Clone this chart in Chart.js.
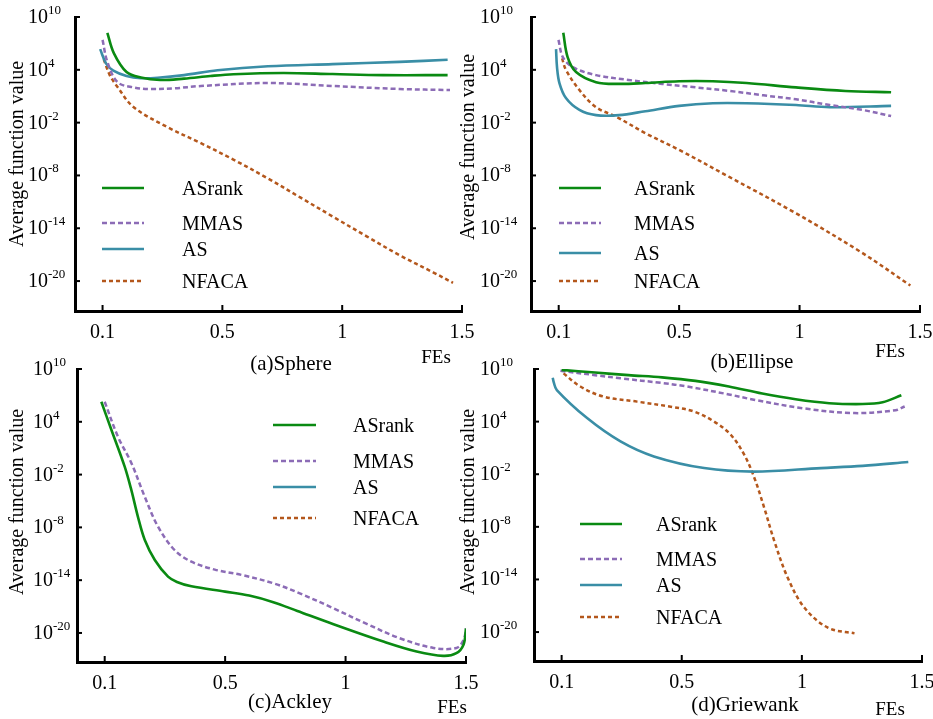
<!DOCTYPE html>
<html>
<head>
<meta charset="utf-8">
<script src="https://cdn.jsdelivr.net/npm/chart.js@4.4.1/dist/chart.umd.min.js"></script>
<style>
  html, body { margin: 0; padding: 0; background: #fff; }
  #fig { position: relative; width: 933px; height: 719px; }
  #fig canvas { position: absolute; left: 0; top: 0; }
</style>
</head>
<body>
<div id="fig">
  <canvas id="c-sphere" width="933" height="719"></canvas>
  <canvas id="c-ellipse" width="933" height="719"></canvas>
  <canvas id="c-ackley" width="933" height="719"></canvas>
  <canvas id="c-griewank" width="933" height="719"></canvas>
</div>
<script>
// x ticks sit evenly spaced, the first one is labelled 0.1
const xTickValues = [0, 0.5, 1, 1.5];
const xTickLabels = ['0.1', '0.5', '1', '1.5'];
// y values are log10 of the average function value
const yTickExps = [10, 4, -2, -8, -14, -20];
const seriesNames = ['ASrank', 'MMAS', 'AS', 'NFACA'];

// (a) Sphere
const sphereASrankX = [0.02, 0.047, 0.1, 0.16, 0.24, 0.34, 0.45, 0.546, 0.754, 0.96, 1.17, 1.44];
const sphereASrank = [8.2, 5.9, 3.75, 3.12, 2.84, 3.0, 3.3, 3.5, 3.64, 3.52, 3.4, 3.4];
const sphereMMASX = [0, 0.02, 0.0625, 0.13, 0.2, 0.3, 0.41, 0.69, 0.96, 1.24, 1.45];
const sphereMMAS = [7.4, 4.9, 2.6, 2.0, 1.82, 1.9, 2.16, 2.5, 2.16, 1.82, 1.7];
const sphereASX = [-0.01, 0.015, 0.045, 0.1, 0.16, 0.23, 0.34, 0.48, 0.69, 0.96, 1.24, 1.44];
const sphereAS = [6.35, 4.7, 3.9, 3.3, 3.05, 3.1, 3.4, 3.95, 4.4, 4.65, 4.9, 5.15];
const sphereNFACAX = [0.005, 0.03, 0.0625, 0.129, 0.27, 0.408, 0.546, 0.6875, 0.825, 0.9625, 1.104, 1.242, 1.379, 1.4625];
const sphereNFACA = [5.2, 3.4, 2.05, -0.23, -2.5, -4.3, -6.2, -8.3, -10.5, -12.7, -14.95, -17.1, -19.0, -20.2];

// (b) Ellipse
const ellipseASrankX = [0.019, 0.037, 0.072, 0.155, 0.25, 0.36, 0.5, 0.64, 0.78, 0.985, 1.19, 1.38];
const ellipseASrank = [8.2, 5.45, 3.75, 2.6, 2.4, 2.5, 2.7, 2.7, 2.5, 2.0, 1.6, 1.45];
const ellipseMMASX = [-0.001, 0.017, 0.058, 0.155, 0.29, 0.43, 0.57, 0.71, 0.85, 0.985, 1.125, 1.26, 1.38];
const ellipseMMAS = [7.4, 5.45, 4.3, 3.4, 2.85, 2.4, 2.0, 1.6, 1.1, 0.65, 0, -0.55, -1.25];
const ellipseASX = [-0.011, -0.007, 0.003, 0.03, 0.086, 0.155, 0.25, 0.36, 0.5, 0.64, 0.78, 0.985, 1.125, 1.38];
const ellipseAS = [6.35, 4.3, 2.5, 0.8, -0.55, -1.15, -1.15, -0.7, -0.1, 0.2, 0.2, 0, -0.25, -0.1];
const ellipseNFACAX = [0.014, 0.03, 0.086, 0.155, 0.24, 0.36, 0.5, 0.71, 0.985, 1.26, 1.46];
const ellipseNFACA = [5.3, 4.0, 1.7, -0.25, -1.35, -3.2, -5.1, -8.2, -12.3, -16.8, -20.5];

// (c) Ackley, AS and NFACA only appear in the legend
const ackleyASrankX = [-0.014, 0.028, 0.083, 0.111, 0.138, 0.166, 0.208, 0.263, 0.3, 0.36, 0.5, 0.6, 0.7, 0.8, 0.95, 1.16, 1.295, 1.405, 1.46, 1.49, 1.5];
const ackleyASrank = [6.28, 3.07, -1.1, -3.8, -6.8, -9.4, -11.7, -13.6, -14.2, -14.7, -15.3, -15.75, -16.5, -17.5, -19.0, -21.0, -22.1, -22.6, -22.3, -21.3, -19.5];
const ackleyMMASX = [0, 0.055, 0.111, 0.166, 0.221, 0.291, 0.36, 0.457, 0.568, 0.706, 0.81, 0.95, 1.09, 1.225, 1.365, 1.46, 1.49, 1.5];
const ackleyMMAS = [6.28, 2.3, -0.7, -4.5, -7.9, -10.6, -11.9, -12.8, -13.4, -14.4, -15.5, -17.2, -19.0, -20.6, -21.7, -21.7, -20.8, -19.5];
const ackleyASX = [];
const ackleyAS = [];
const ackleyNFACAX = [];
const ackleyNFACA = [];

// (d) Griewank
const griewankASrankX = [0, 0.139, 0.278, 0.418, 0.557, 0.696, 0.835, 0.974, 1.114, 1.253, 1.336, 1.414];
const griewankASrank = [9.9, 9.6, 9.3, 9.05, 8.65, 8.0, 7.2, 6.55, 6.1, 6.0, 6.2, 7.0];
const griewankMMASX = [-0.005, 0.139, 0.245, 0.418, 0.523, 0.696, 0.8, 1.01, 1.219, 1.39, 1.428];
const griewankMMAS = [9.8, 9.3, 8.94, 8.4, 8.0, 7.1, 6.5, 5.5, 4.97, 5.3, 5.72];
const griewankASX = [-0.037, -0.033, -0.02, 0.106, 0.245, 0.384, 0.593, 0.8, 1.08, 1.253, 1.443];
const griewankAS = [9.0, 8.5, 7.6, 4.4, 1.74, 0.03, -1.3, -1.7, -1.3, -1.05, -0.6];
const griewankNFACAX = [0.008, 0.078, 0.175, 0.314, 0.454, 0.551, 0.635, 0.704, 0.76, 0.802, 0.843, 0.885, 0.941, 1.01, 1.108, 1.219];
const griewankNFACA = [9.5, 8.0, 6.85, 6.28, 5.7, 5.15, 4.0, 2.5, 0.23, -2.4, -5.8, -9.6, -13.8, -17.2, -19.5, -20.15];

const styles = {
    ASrank: { color: '#0a8a12', width: 2.6, dash: [] },
    MMAS: { color: '#8c6cb6', width: 2.5, dash: [5, 3] },
    AS: { color: '#3a8ea6', width: 2.6, dash: [] },
    NFACA: { color: '#b4571c', width: 2.5, dash: [4, 3] }
};

const SERIF = '"Liberation Serif", "Times New Roman", serif';

function toPoints(xs, ys) {
    return xs.map((x, i) => ({ x: x, y: ys[i] }));
}

function line(ctx, x1, y1, x2, y2) {
    ctx.beginPath();
    ctx.moveTo(x1, y1);
    ctx.lineTo(x2, y2);
    ctx.stroke();
}

// ticks, tick labels, titles and the legend, all placed off the chart's scales
function decorPlugin(layout) {
    return {
        id: 'decor',
        afterDraw(chart) {
            const ctx = chart.ctx;
            const area = chart.chartArea;
            const xs = chart.scales.x;
            const ys = chart.scales.y;
            ctx.save();
            ctx.strokeStyle = '#000';
            ctx.fillStyle = '#000';
            ctx.lineWidth = 2;
            ctx.setLineDash([]);

            yTickExps.forEach(e => {
                const py = ys.getPixelForValue(e);
                line(ctx, area.left, py, area.left + 5, py);
                ctx.textAlign = 'left';
                ctx.textBaseline = 'alphabetic';
                ctx.font = '20px ' + SERIF;
                ctx.fillText('10', layout.yLabelX, py + 6);
                const w = ctx.measureText('10').width;
                ctx.font = '13px ' + SERIF;
                ctx.fillText(String(e), layout.yLabelX + w, py - 3);
            });

            xTickValues.forEach((v, i) => {
                const px = xs.getPixelForValue(v);
                line(ctx, px, area.bottom, px, area.bottom - 6);
                ctx.font = '20px ' + SERIF;
                ctx.textAlign = 'center';
                ctx.textBaseline = 'alphabetic';
                ctx.fillText(xTickLabels[i], px, area.bottom + 27);
            });

            ctx.save();
            ctx.translate(layout.titleX, layout.titleY);
            ctx.rotate(-Math.PI / 2);
            ctx.font = '20px ' + SERIF;
            ctx.textAlign = 'center';
            ctx.textBaseline = 'middle';
            ctx.fillText('Average function value', 0, 0);
            ctx.restore();

            ctx.font = '21px ' + SERIF;
            ctx.textAlign = 'center';
            ctx.fillText(layout.caption, layout.captionX, layout.captionY);
            ctx.font = '19px ' + SERIF;
            ctx.fillText('FEs', layout.fesX, layout.fesY);

            const lg = layout.legend;
            chart.data.datasets.forEach((ds, i) => {
                const y = lg.rows[i];
                ctx.strokeStyle = ds.borderColor;
                ctx.lineWidth = ds.borderWidth;
                ctx.setLineDash(ds.borderDash);
                line(ctx, lg.lineX1, y, lg.lineX2, y);
                ctx.setLineDash([]);
                ctx.font = '20px ' + SERIF;
                ctx.textAlign = 'left';
                ctx.textBaseline = 'alphabetic';
                ctx.fillText(ds.label, lg.textX, y + 6.5);
            });
            ctx.restore();
        }
    };
}

function makePanel(canvasId, series, layout) {
    const datasets = seriesNames.map((name, i) => ({
        label: name,
        data: toPoints(series[i][0], series[i][1]),
        borderColor: styles[name].color,
        borderWidth: styles[name].width,
        borderDash: styles[name].dash,
        pointRadius: 0,
        fill: false,
        tension: 0.35
    }));
    return new Chart(document.getElementById(canvasId), {
        type: 'line',
        data: { datasets: datasets },
        options: {
            responsive: false,
            animation: false,
            layout: { padding: layout.padding },
            scales: {
                x: {
                    type: 'linear',
                    min: -0.115,
                    max: 1.5,
                    grid: { display: false, drawTicks: false },
                    border: { display: true, color: '#000', width: 3 },
                    ticks: { display: false }
                },
                y: {
                    type: 'linear',
                    min: layout.yMin,
                    max: 10,
                    grid: { display: false, drawTicks: false },
                    border: { display: true, color: '#000', width: 3 },
                    ticks: { display: false }
                }
            },
            plugins: {
                legend: { display: false },
                tooltip: { enabled: false }
            }
        },
        plugins: [decorPlugin(layout)]
    });
}

makePanel('c-sphere',
    [[sphereASrankX, sphereASrank], [sphereMMASX, sphereMMAS], [sphereASX, sphereAS], [sphereNFACAX, sphereNFACA]],
    {
        padding: { left: 75, top: 17, right: 471, bottom: 408 },
        yMin: -23.4, yLabelX: 28, titleX: 18, titleY: 154,
        caption: '(a)Sphere', captionX: 291, captionY: 370, fesX: 436, fesY: 363,
        legend: { lineX1: 102, lineX2: 144, textX: 182, rows: [188, 223, 249, 281] }
    });

makePanel('c-ellipse',
    [[ellipseASrankX, ellipseASrank], [ellipseMMASX, ellipseMMAS], [ellipseASX, ellipseAS], [ellipseNFACAX, ellipseNFACA]],
    {
        padding: { left: 531, top: 17, right: 13, bottom: 408 },
        yMin: -23.4, yLabelX: 480, titleX: 469, titleY: 147,
        caption: '(b)Ellipse', captionX: 752, captionY: 368, fesX: 890, fesY: 357,
        legend: { lineX1: 559, lineX2: 601, textX: 634, rows: [188, 223, 253, 281] }
    });

makePanel('c-ackley',
    [[ackleyASrankX, ackleyASrank], [ackleyMMASX, ackleyMMAS], [ackleyASX, ackleyAS], [ackleyNFACAX, ackleyNFACA]],
    {
        padding: { left: 77, top: 369, right: 467, bottom: 57 },
        yMin: -23.3, yLabelX: 33, titleX: 18, titleY: 502,
        caption: '(c)Ackley', captionX: 290, captionY: 708, fesX: 452, fesY: 713,
        legend: { lineX1: 273, lineX2: 316, textX: 353, rows: [425, 461, 487, 518] }
    });

makePanel('c-griewank',
    [[griewankASrankX, griewankASrank], [griewankMMASX, griewankMMAS], [griewankASX, griewankAS], [griewankNFACAX, griewankNFACA]],
    {
        padding: { left: 534, top: 369, right: 11, bottom: 58 },
        yMin: -23.3, yLabelX: 480, titleX: 469, titleY: 502,
        caption: '(d)Griewank', captionX: 745, captionY: 711, fesX: 890, fesY: 715,
        legend: { lineX1: 580, lineX2: 622, textX: 656, rows: [524, 559, 585, 617] }
    });
</script>
</body>
</html>
